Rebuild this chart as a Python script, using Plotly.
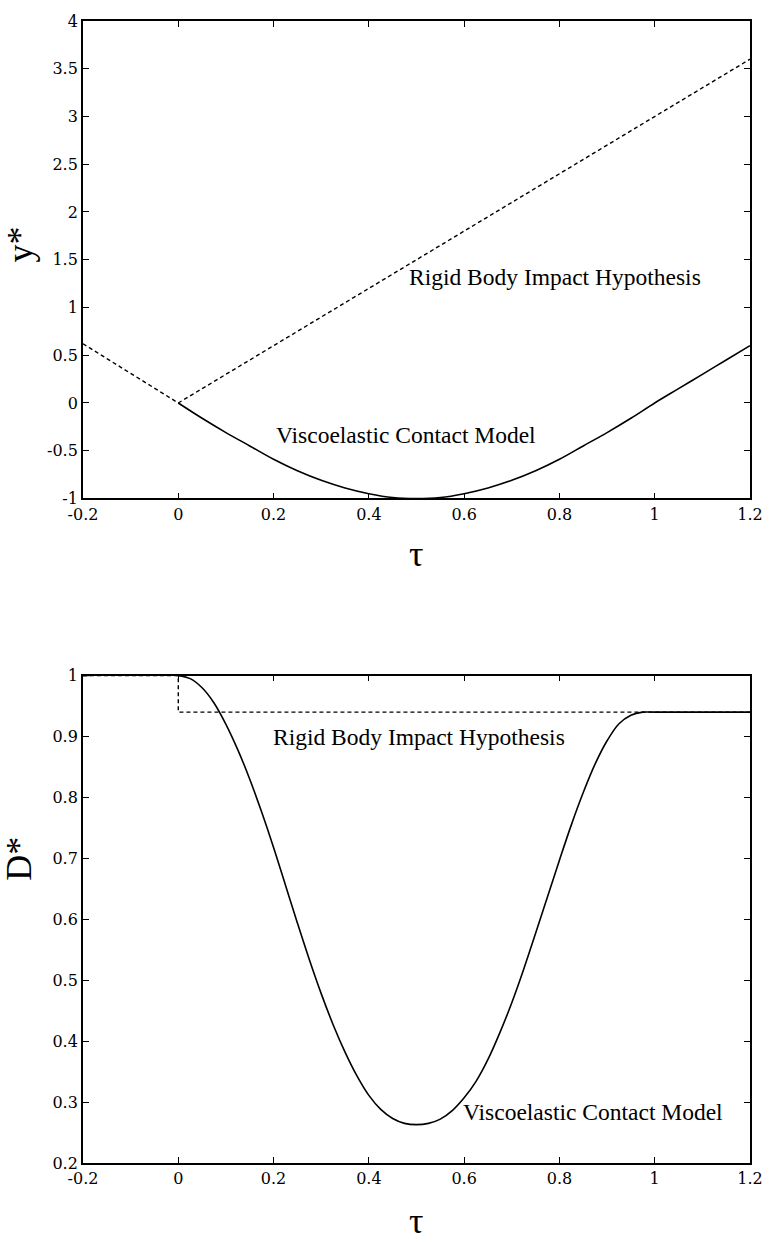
import plotly.graph_objects as go
from plotly.subplots import make_subplots

# ---- data ----
# top panel: y* vs tau
rigid_y_tau = [-0.2, 0.0, 1.2]
rigid_y_val = [0.62, 0.0, 3.6]

visco_y_tau = [0.0, 0.05, 0.1, 0.15, 0.2, 0.25, 0.3, 0.35, 0.4, 0.45, 0.5,
               0.55, 0.6, 0.65, 0.7, 0.75, 0.8, 0.85, 0.9, 0.95, 1.0, 1.05, 1.1, 1.15, 1.2]
visco_y_val = [0.0, -0.16, -0.31, -0.45, -0.59, -0.71, -0.81, -0.89, -0.95, -0.99, -1.0,
               -0.99, -0.95, -0.89, -0.81, -0.71, -0.59, -0.45, -0.31, -0.16, 0.0,
               0.15, 0.3, 0.45, 0.6]

# bottom panel: D* vs tau
rigid_d_tau = [-0.2, 0.0, 0.0, 1.2]
rigid_d_val = [1.0, 1.0, 0.94, 0.94]

visco_d_tau = [-0.2, 0.0, 0.025, 0.05, 0.075, 0.1, 0.125, 0.15, 0.175, 0.2, 0.225, 0.25,
               0.275, 0.3, 0.325, 0.35, 0.375, 0.4, 0.425, 0.45, 0.475, 0.5,
               0.525, 0.55, 0.575, 0.6, 0.625, 0.65, 0.675, 0.7, 0.725, 0.75,
               0.775, 0.8, 0.825, 0.85, 0.875, 0.9, 0.925, 0.95, 0.975, 1.0, 1.2]
visco_d_val = [1.0, 1.0, 0.995, 0.98, 0.955, 0.92, 0.878, 0.83, 0.776, 0.718, 0.656, 0.594,
               0.534, 0.478, 0.427, 0.382, 0.343, 0.311, 0.288, 0.273, 0.265, 0.263,
               0.265, 0.272, 0.286, 0.307, 0.334, 0.37, 0.414, 0.463, 0.518, 0.577,
               0.637, 0.697, 0.755, 0.808, 0.855, 0.893, 0.921, 0.935, 0.94, 0.94, 0.94]

x_ticks = [-0.2, 0, 0.2, 0.4, 0.6, 0.8, 1, 1.2]
x_tick_text = ["-0.2", "0", "0.2", "0.4", "0.6", "0.8", "1", "1.2"]
y1_ticks = [-1, -0.5, 0, 0.5, 1, 1.5, 2, 2.5, 3, 3.5, 4]
y1_tick_text = ["-1", "-0.5", "0", "0.5", "1", "1.5", "2", "2.5", "3", "3.5", "4"]
y2_ticks = [0.2, 0.3, 0.4, 0.5, 0.6, 0.7, 0.8, 0.9, 1]
y2_tick_text = ["0.2", "0.3", "0.4", "0.5", "0.6", "0.7", "0.8", "0.9", "1"]

label_rigid = "Rigid Body Impact Hypothesis"
label_visco = "Viscoelastic Contact Model"

# ---- figure ----
fig = make_subplots(rows=2, cols=1)

line_solid = dict(color="black", width=1.6)
line_dash = dict(color="black", width=1.4, dash="4px,3px")

fig.add_trace(go.Scatter(x=visco_y_tau, y=visco_y_val, mode="lines", line=line_solid,
                         line_shape="spline", showlegend=False), row=1, col=1)
fig.add_trace(go.Scatter(x=rigid_y_tau, y=rigid_y_val, mode="lines", line=line_dash,
                         showlegend=False), row=1, col=1)
fig.add_trace(go.Scatter(x=visco_d_tau, y=visco_d_val, mode="lines", line=line_solid,
                         line_shape="spline", showlegend=False), row=2, col=1)
fig.add_trace(go.Scatter(x=rigid_d_tau, y=rigid_d_val, mode="lines", line=line_dash,
                         showlegend=False), row=2, col=1)

tick_font = dict(family="DejaVu Serif", size=16, color="black")
axis_common = dict(showline=True, linecolor="black", linewidth=1.8, mirror="ticks",
                   ticks="inside", ticklen=6, tickwidth=1.2, tickcolor="black",
                   showgrid=False, zeroline=False, tickfont=tick_font)

fig.update_xaxes(range=[-0.2, 1.2], tickvals=x_ticks, ticktext=x_tick_text, **axis_common)
fig.update_yaxes(**axis_common)
fig.update_yaxes(range=[-1, 4], tickvals=y1_ticks, ticktext=y1_tick_text,
                 domain=[0.5819, 1.0], row=1, col=1)
fig.update_yaxes(range=[0.2, 1], tickvals=y2_ticks, ticktext=y2_tick_text,
                 domain=[0.0, 0.4268], row=2, col=1)

ann_font = dict(family="Liberation Serif", size=23.5, color="black")
title_font = dict(family="Liberation Serif", size=36, color="black")

annotations = [
    dict(x=0.48, y=1.32, xref="x", yref="y", text=label_rigid, showarrow=False,
         xanchor="left", yanchor="middle", font=ann_font),
    dict(x=0.201, y=-0.34, xref="x", yref="y", text=label_visco, showarrow=False,
         xanchor="left", yanchor="middle", font=ann_font),
    dict(x=0.195, y=0.90, xref="x2", yref="y2", text=label_rigid, showarrow=False,
         xanchor="left", yanchor="middle", font=ann_font),
    dict(x=0.594, y=0.283, xref="x2", yref="y2", text=label_visco, showarrow=False,
         xanchor="left", yanchor="middle", font=ann_font),
    dict(x=0.4993, y=0.533, xref="paper", yref="paper", text="τ", showarrow=False,
         xanchor="center", yanchor="middle", font=title_font),
    dict(x=0.4993, y=-0.0697, xref="paper", yref="paper", text="τ", showarrow=False,
         xanchor="center", yanchor="bottom", font=title_font),
    dict(x=-0.095, y=0.804, xref="paper", yref="paper", text="y*", showarrow=False,
         textangle=-90, xanchor="center", yanchor="middle", font=title_font),
    dict(x=-0.095, y=0.266, xref="paper", yref="paper", text="D*", showarrow=False,
         textangle=-90, xanchor="center", yanchor="middle", font=title_font),
]

fig.update_layout(width=775, height=1245, margin=dict(l=83, r=15, t=15, b=82),
                  plot_bgcolor="white", paper_bgcolor="white",
                  annotations=annotations, showlegend=False)

fig.write_html("out.html", config={"displayModeBar": False},
               post_script="document.body.style.margin='0';document.body.style.overflow='hidden';")
